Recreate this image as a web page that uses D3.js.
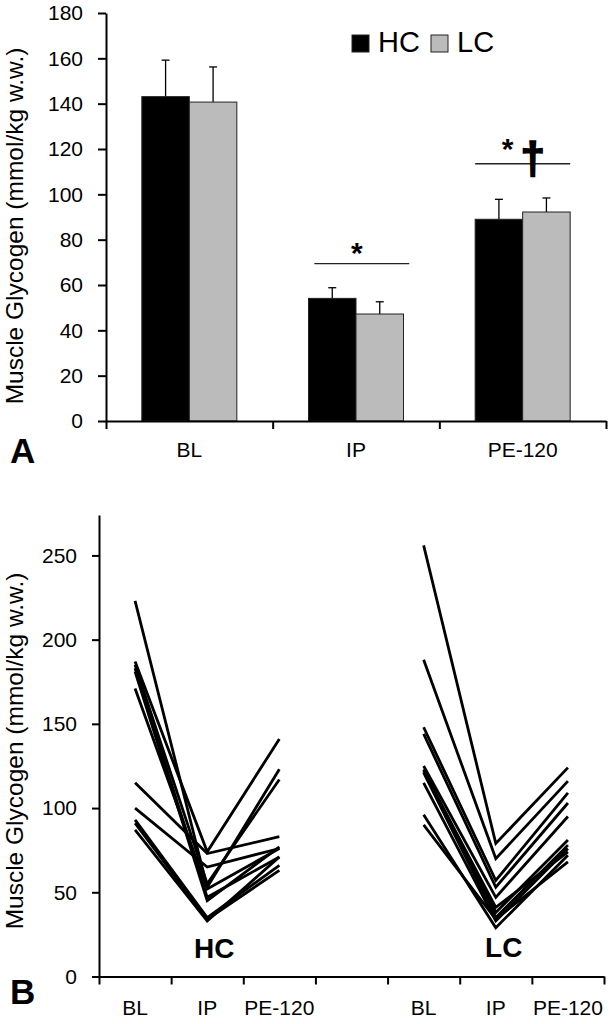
<!DOCTYPE html>
<html><head><meta charset="utf-8">
<script src="https://cdn.jsdelivr.net/npm/d3@7"></script>
<style>
body{margin:0;background:#fff;}
text{font-family:"Liberation Sans",Arial,Helvetica,sans-serif;fill:#000;}
</style></head>
<body><div id="chart"></div>
<script>
// ---------- Panel A data ----------
const topCats = ["BL", "IP", "PE-120"];
const hcMeans = [143.1, 54.1, 89.0];
const lcMeans = [140.7, 47.2, 92.2];
const hcErr = [16.1, 4.7, 8.8];
const lcErr = [15.5, 5.4, 6.2];
const topTicks = [0, 20, 40, 60, 80, 100, 120, 140, 160, 180];
const sigLevels = [69.4, 113.5]; // IP line, PE-120 line
const legendLabels = ["HC", "LC"];

// ---------- Panel B data ----------
const bottomSlots = ["hcBL", "hcIP", "hcPE", "gap", "lcBL", "lcIP", "lcPE"];
const bottomLabels = ["BL", "IP", "PE-120", "", "BL", "IP", "PE-120"];
const bottomTicks = [0, 50, 100, 150, 200, 250];
const hcBL = [223, 187, 185, 183, 181, 171, 115, 100, 93, 91, 87];
const hcIP = [53, 74, 55, 47, 45, 52, 73, 65, 35, 34, 33];
const hcPE = [123, 141, 117, 71, 77, 76, 83, 76, 66, 63, 71];
const lcBL = [256, 188, 148, 144, 125, 123, 121, 115, 96, 90, 122];
const lcIP = [79, 70, 57, 53, 47, 38, 35, 33, 29, 34, 41];
const lcPE = [124, 116, 109, 103, 95, 81, 78, 76, 72, 68, 74];

const W = 612, H = 1024;
const FONT = "Liberation Sans, Arial, sans-serif";
const svg = d3.select("#chart").append("svg").attr("width", W).attr("height", H);
svg.append("rect").attr("width", W).attr("height", H).attr("fill", "#fff");

// ================= Panel A =================
const yTop = d3.scaleLinear().domain([0, 180]).range([421, 13]);
const xTop = d3.scaleBand().domain(topCats).range([106, 606]);
const bw = xTop.bandwidth();
const xSub = d3.scaleBand().domain(["HC", "LC"]).range([bw * 0.215, bw * 0.785]);

const gA = svg.append("g");
const barData = [];
topCats.forEach((c, i) => {
  barData.push({c, g: "HC", v: hcMeans[i], e: hcErr[i]});
  barData.push({c, g: "LC", v: lcMeans[i], e: lcErr[i]});
});
gA.selectAll(".err").data(barData).enter().append("g").each(function(d) {
  const cx = xTop(d.c) + xSub(d.g) + xSub.bandwidth() / 2;
  const g = d3.select(this);
  g.append("line").attr("x1", cx).attr("x2", cx).attr("y1", yTop(d.v)).attr("y2", yTop(d.v + d.e))
    .attr("stroke", "#000").attr("stroke-width", 1.3);
  g.append("line").attr("x1", cx - 4).attr("x2", cx + 4).attr("y1", yTop(d.v + d.e)).attr("y2", yTop(d.v + d.e))
    .attr("stroke", "#000").attr("stroke-width", 1.3);
});
gA.selectAll(".bar").data(barData).enter().append("rect")
  .attr("x", d => xTop(d.c) + xSub(d.g))
  .attr("width", xSub.bandwidth())
  .attr("y", d => yTop(d.v))
  .attr("height", d => yTop(0) - yTop(d.v))
  .attr("fill", d => d.g === "HC" ? "#000" : "#bbbbbb")
  .attr("stroke", "#222").attr("stroke-width", 1);

const yAxA = gA.append("g").attr("transform", "translate(106,0)")
  .call(d3.axisLeft(yTop).tickValues(topTicks).tickSize(8).tickSizeOuter(0).tickPadding(15));
yAxA.selectAll("text").attr("font-size", 21).attr("font-family", FONT);
yAxA.selectAll("line,path").attr("stroke", "#000").attr("stroke-width", 2);

const xEdgeA = d3.scaleLinear().domain([0, 3]).range([106, 606]);
const xAxA = gA.append("g").attr("transform", "translate(0,421)")
  .call(d3.axisBottom(xEdgeA).tickValues([0, 1, 2, 3]).tickFormat("").tickSize(8).tickSizeOuter(0));
xAxA.selectAll("line,path").attr("stroke", "#000").attr("stroke-width", 2);
const xLabA = gA.append("g").attr("transform", "translate(0,421)")
  .call(d3.axisBottom(xTop).tickSize(0).tickPadding(21));
xLabA.select(".domain").remove();
xLabA.selectAll("text").attr("font-size", 21).attr("font-family", FONT);

gA.append("text").attr("transform", `translate(23,226) rotate(-90)`)
  .attr("text-anchor", "middle").attr("font-size", 24.5).text("Muscle Glycogen (mmol/kg w.w.)");

const legX = [352, 431];
legendLabels.forEach((l, i) => {
  gA.append("rect").attr("x", legX[i]).attr("y", 35).attr("width", 17).attr("height", 17)
    .attr("fill", i === 0 ? "#000" : "#bbbbbb").attr("stroke", "#222").attr("stroke-width", 1);
  gA.append("text").attr("x", legX[i] + 26).attr("y", 52).attr("font-size", 29).text(l);
});

const ipX = xTop("IP"), peX = xTop("PE-120");
gA.append("line").attr("x1", ipX + bw * 0.25).attr("x2", ipX + bw * 0.82)
  .attr("y1", yTop(sigLevels[0])).attr("y2", yTop(sigLevels[0])).attr("stroke", "#222").attr("stroke-width", 1.3);
gA.append("text").attr("x", ipX + bw * 0.505).attr("y", yTop(sigLevels[0]) - 1).attr("text-anchor", "middle")
  .attr("font-size", 30).attr("font-weight", "bold").text("*");
gA.append("line").attr("x1", peX + bw * 0.215).attr("x2", peX + bw * 0.785)
  .attr("y1", yTop(sigLevels[1])).attr("y2", yTop(sigLevels[1])).attr("stroke", "#222").attr("stroke-width", 1.3);
gA.append("text").attr("x", peX + bw * 0.41).attr("y", yTop(sigLevels[1]) - 5).attr("text-anchor", "middle")
  .attr("font-size", 30).attr("font-weight", "bold").text("*");
gA.append("text").attr("x", peX + bw * 0.56).attr("y", yTop(sigLevels[1]) + 9).attr("text-anchor", "middle")
  .attr("font-size", 44).attr("font-weight", "bold")
  .attr("stroke", "#000").attr("stroke-width", 1.6).text("†");

gA.append("text").attr("x", 10).attr("y", 463).attr("font-size", 35).attr("font-weight", "bold").text("A");

// ================= Panel B =================
const yBot = d3.scaleLinear().domain([0, 274]).range([976.5, 515]);
const xBot = d3.scaleBand().domain(bottomSlots).range([99, 604]);
const bwB = xBot.bandwidth();
const gB = svg.append("g");

function subjects(bl, ip, pe, slots) {
  return bl.map((v, i) => [[slots[0], v], [slots[1], ip[i]], [slots[2], pe[i]]]);
}
const lineGen = d3.line().x(d => xBot(d[0]) + bwB / 2).y(d => yBot(d[1]));
const hcLines = subjects(hcBL, hcIP, hcPE, ["hcBL", "hcIP", "hcPE"]);
const lcLines = subjects(lcBL, lcIP, lcPE, ["lcBL", "lcIP", "lcPE"]);
gB.selectAll(".hc").data(hcLines).enter().append("path").attr("d", lineGen)
  .attr("fill", "none").attr("stroke", "#000").attr("stroke-width", 2.8);
gB.selectAll(".lc").data(lcLines).enter().append("path").attr("d", lineGen)
  .attr("fill", "none").attr("stroke", "#000").attr("stroke-width", 2.8);

const yAxB = gB.append("g").attr("transform", "translate(99,0)")
  .call(d3.axisLeft(yBot).tickValues(bottomTicks).tickSize(7).tickSizeOuter(0).tickPadding(15));
yAxB.selectAll("text").attr("font-size", 21).attr("font-family", FONT);
yAxB.selectAll("line,path").attr("stroke", "#000").attr("stroke-width", 2);

const xEdgeB = d3.scaleLinear().domain([0, 7]).range([99, 604]);
const xAxB = gB.append("g").attr("transform", "translate(0,976.5)")
  .call(d3.axisBottom(xEdgeB).tickValues(d3.range(0, 8)).tickFormat("").tickSize(8).tickSizeOuter(0));
xAxB.selectAll("line,path").attr("stroke", "#000").attr("stroke-width", 2);
const xLabB = gB.append("g").attr("transform", "translate(0,976.5)")
  .call(d3.axisBottom(xBot).tickSize(0).tickPadding(24).tickFormat((d, i) => bottomLabels[i]));
xLabB.select(".domain").remove();
xLabB.selectAll("text").attr("font-size", 21).attr("font-family", FONT);

gB.append("text").attr("transform", `translate(23,751) rotate(-90)`)
  .attr("text-anchor", "middle").attr("font-size", 24.5).text("Muscle Glycogen (mmol/kg w.w.)");

gB.append("text").attr("x", xBot("hcIP") + bwB / 2 + 7).attr("y", 958).attr("text-anchor", "middle")
  .attr("font-size", 28).attr("font-weight", "bold").text("HC");
gB.append("text").attr("x", xBot("lcIP") + bwB / 2 + 8).attr("y", 957).attr("text-anchor", "middle")
  .attr("font-size", 28).attr("font-weight", "bold").text("LC");

gB.append("text").attr("x", 10).attr("y", 1004).attr("font-size", 35).attr("font-weight", "bold").text("B");
</script></body></html>
